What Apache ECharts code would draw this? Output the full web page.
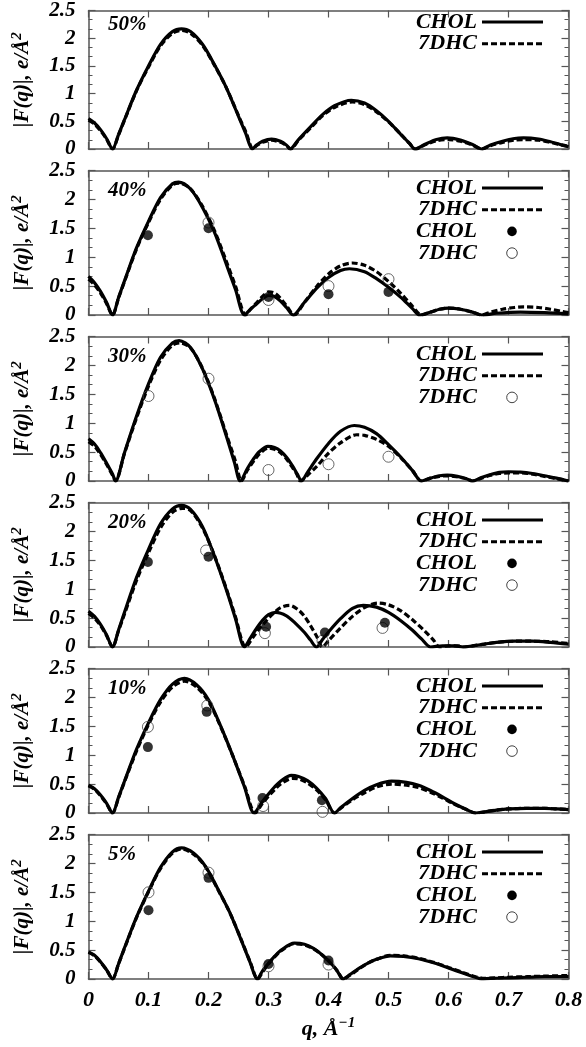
<!DOCTYPE html>
<html><head><meta charset="utf-8">
<script src="https://cdn.jsdelivr.net/npm/echarts@6.0.0/dist/echarts.min.js"></script>
<style>html,body{margin:0;padding:0;background:#fff}#c{width:586px;height:1047px}</style>
</head><body><div id="c"></div>
<script>
// ---------- DATA ----------
const panelLabels = ['50%', '40%', '30%', '20%', '10%', '5%'];
const xTicks = [0, 0.1, 0.2, 0.3, 0.4, 0.5, 0.6, 0.7, 0.8];
const yTicks = [0, 0.5, 1, 1.5, 2, 2.5];

const chol50 = [[0,0.55],[0.01,0.47],[0.02,0.35],[0.03,0.19],[0.04,0],[0.05,0.26],[0.06,0.53],[0.08,1.06],[0.1,1.5],[0.12,1.89],[0.14,2.12],[0.155,2.17],[0.17,2.12],[0.19,1.89],[0.21,1.52],[0.23,1.1],[0.25,0.59],[0.262,0.28],[0.273,0],[0.28,0.07],[0.29,0.14],[0.305,0.18],[0.32,0.14],[0.33,0.07],[0.336,0],[0.35,0.17],[0.37,0.4],[0.39,0.62],[0.41,0.78],[0.438,0.88],[0.46,0.83],[0.48,0.69],[0.5,0.5],[0.52,0.27],[0.535,0.1],[0.544,0],[0.56,0.08],[0.58,0.17],[0.598,0.2],[0.62,0.16],[0.64,0.08],[0.655,0],[0.67,0.07],[0.69,0.14],[0.71,0.19],[0.725,0.2],[0.75,0.18],[0.77,0.13],[0.79,0.07],[0.8,0.04]];
const dhc50 = [[0,0.52],[0.01,0.45],[0.02,0.33],[0.03,0.18],[0.04,0],[0.05,0.25],[0.06,0.52],[0.08,1.05],[0.1,1.48],[0.12,1.86],[0.14,2.09],[0.155,2.14],[0.17,2.09],[0.19,1.87],[0.21,1.51],[0.23,1.1],[0.25,0.6],[0.263,0.29],[0.274,0],[0.28,0.06],[0.29,0.12],[0.305,0.16],[0.32,0.12],[0.33,0.06],[0.337,0],[0.35,0.16],[0.37,0.38],[0.39,0.6],[0.41,0.75],[0.44,0.85],[0.46,0.8],[0.48,0.67],[0.5,0.49],[0.52,0.27],[0.535,0.1],[0.545,0],[0.56,0.07],[0.58,0.15],[0.6,0.17],[0.62,0.14],[0.64,0.07],[0.656,0],[0.67,0.06],[0.69,0.12],[0.71,0.16],[0.725,0.17],[0.75,0.16],[0.77,0.12],[0.79,0.07],[0.8,0.05]];

const chol40 = [[0,0.67],[0.01,0.56],[0.02,0.41],[0.03,0.22],[0.04,0],[0.05,0.3],[0.06,0.59],[0.08,1.16],[0.1,1.62],[0.12,2.03],[0.14,2.27],[0.15,2.3],[0.17,2.18],[0.19,1.86],[0.21,1.43],[0.23,0.87],[0.245,0.44],[0.26,0],[0.27,0.1],[0.28,0.19],[0.29,0.28],[0.3,0.34],[0.31,0.32],[0.32,0.24],[0.33,0.13],[0.341,0],[0.36,0.22],[0.38,0.46],[0.4,0.65],[0.42,0.77],[0.435,0.8],[0.46,0.75],[0.48,0.63],[0.5,0.48],[0.52,0.31],[0.54,0.11],[0.552,0],[0.57,0.05],[0.585,0.1],[0.6,0.12],[0.62,0.1],[0.64,0.05],[0.655,0],[0.68,0.03],[0.72,0.05],[0.76,0.04],[0.8,0.02]];
const dhc40 = [[0,0.62],[0.01,0.52],[0.02,0.38],[0.03,0.2],[0.04,0],[0.05,0.29],[0.06,0.58],[0.08,1.14],[0.1,1.6],[0.12,2.0],[0.14,2.25],[0.152,2.28],[0.17,2.18],[0.19,1.88],[0.21,1.46],[0.23,0.92],[0.245,0.5],[0.262,0],[0.27,0.1],[0.28,0.21],[0.29,0.32],[0.3,0.4],[0.31,0.38],[0.32,0.29],[0.33,0.16],[0.343,0],[0.36,0.22],[0.38,0.49],[0.4,0.71],[0.42,0.85],[0.44,0.9],[0.46,0.86],[0.48,0.75],[0.5,0.58],[0.52,0.38],[0.54,0.15],[0.555,0],[0.57,0.05],[0.585,0.1],[0.6,0.12],[0.62,0.1],[0.64,0.05],[0.655,0],[0.67,0.05],[0.69,0.1],[0.71,0.13],[0.725,0.14],[0.75,0.13],[0.77,0.1],[0.79,0.06],[0.8,0.04]];
const cholPts40 = [[0.099,1.38],[0.2,1.5],[0.3,0.31],[0.4,0.36],[0.5,0.4]];
const dhcPts40 = [[0.2,1.6],[0.3,0.26],[0.4,0.5],[0.5,0.62]];

const chol30 = [[0,0.73],[0.01,0.64],[0.02,0.49],[0.03,0.31],[0.04,0.12],[0.045,0],[0.06,0.49],[0.08,1.12],[0.1,1.68],[0.12,2.14],[0.14,2.39],[0.151,2.43],[0.17,2.31],[0.19,1.94],[0.21,1.41],[0.23,0.77],[0.243,0.33],[0.253,0],[0.265,0.22],[0.275,0.38],[0.285,0.51],[0.299,0.6],[0.31,0.58],[0.32,0.52],[0.33,0.41],[0.34,0.26],[0.348,0.12],[0.355,0],[0.365,0.15],[0.38,0.38],[0.4,0.65],[0.42,0.86],[0.443,0.96],[0.46,0.93],[0.48,0.82],[0.5,0.63],[0.52,0.42],[0.54,0.18],[0.555,0],[0.57,0.05],[0.585,0.09],[0.598,0.1],[0.615,0.08],[0.63,0.04],[0.64,0],[0.655,0.06],[0.67,0.11],[0.685,0.15],[0.7,0.16],[0.72,0.155],[0.74,0.13],[0.76,0.09],[0.78,0.05],[0.8,0]];
const dhc30 = [[0,0.68],[0.01,0.6],[0.02,0.46],[0.03,0.29],[0.04,0.1],[0.045,0],[0.06,0.48],[0.08,1.09],[0.1,1.64],[0.12,2.09],[0.14,2.35],[0.153,2.39],[0.17,2.3],[0.19,1.95],[0.21,1.43],[0.23,0.8],[0.245,0.34],[0.255,0],[0.265,0.19],[0.275,0.34],[0.285,0.47],[0.3,0.57],[0.31,0.55],[0.32,0.49],[0.33,0.38],[0.34,0.23],[0.347,0.12],[0.353,0],[0.365,0.1],[0.38,0.25],[0.4,0.48],[0.42,0.66],[0.447,0.8],[0.46,0.79],[0.48,0.72],[0.5,0.6],[0.52,0.41],[0.54,0.18],[0.555,0],[0.57,0.05],[0.585,0.08],[0.598,0.09],[0.615,0.07],[0.63,0.04],[0.64,0],[0.655,0.05],[0.67,0.1],[0.685,0.13],[0.7,0.14],[0.72,0.14],[0.74,0.12],[0.76,0.08],[0.78,0.04],[0.8,0]];
const cholPts30 = [];
const dhcPts30 = [[0.1,1.47],[0.2,1.77],[0.3,0.19],[0.4,0.29],[0.5,0.42]];

const chol20 = [[0,0.62],[0.01,0.53],[0.02,0.39],[0.03,0.21],[0.04,0],[0.05,0.29],[0.06,0.6],[0.08,1.2],[0.1,1.69],[0.12,2.13],[0.14,2.39],[0.155,2.45],[0.17,2.38],[0.19,2.08],[0.21,1.57],[0.23,0.98],[0.245,0.49],[0.26,0],[0.27,0.16],[0.28,0.32],[0.29,0.46],[0.3,0.56],[0.312,0.6],[0.33,0.54],[0.345,0.41],[0.36,0.25],[0.37,0.12],[0.38,0],[0.39,0.13],[0.4,0.26],[0.42,0.49],[0.44,0.67],[0.458,0.72],[0.48,0.69],[0.5,0.6],[0.52,0.46],[0.54,0.29],[0.555,0.14],[0.57,0],[0.59,0.02],[0.61,0.02],[0.625,0],[0.64,0.02],[0.66,0.05],[0.68,0.08],[0.71,0.1],[0.74,0.1],[0.77,0.08],[0.8,0.05]];
const dhc20 = [[0,0.58],[0.01,0.5],[0.02,0.37],[0.03,0.2],[0.04,0],[0.05,0.28],[0.06,0.57],[0.08,1.15],[0.1,1.63],[0.12,2.06],[0.14,2.33],[0.157,2.4],[0.17,2.36],[0.19,2.06],[0.21,1.58],[0.23,1.0],[0.245,0.52],[0.262,0],[0.275,0.18],[0.29,0.38],[0.305,0.55],[0.32,0.68],[0.335,0.72],[0.35,0.64],[0.36,0.53],[0.37,0.37],[0.38,0.19],[0.39,0],[0.4,0.11],[0.42,0.33],[0.44,0.53],[0.46,0.68],[0.482,0.76],[0.5,0.73],[0.52,0.63],[0.54,0.47],[0.56,0.28],[0.575,0.12],[0.585,0],[0.6,0.02],[0.615,0.02],[0.625,0],[0.64,0.02],[0.66,0.05],[0.68,0.08],[0.71,0.1],[0.74,0.1],[0.77,0.09],[0.8,0.06]];
const cholPts20 = [[0.099,1.47],[0.2,1.56],[0.296,0.35],[0.394,0.25],[0.494,0.42]];
const dhcPts20 = [[0.196,1.67],[0.294,0.24],[0.39,0.11],[0.49,0.33]];

const chol10 = [[0,0.48],[0.01,0.42],[0.02,0.31],[0.03,0.17],[0.04,0],[0.05,0.27],[0.06,0.55],[0.08,1.1],[0.1,1.56],[0.12,1.96],[0.14,2.23],[0.16,2.33],[0.18,2.22],[0.2,1.96],[0.22,1.51],[0.24,1.0],[0.26,0.45],[0.276,0],[0.29,0.2],[0.3,0.33],[0.31,0.45],[0.32,0.55],[0.338,0.65],[0.35,0.63],[0.365,0.56],[0.38,0.43],[0.395,0.25],[0.41,0],[0.42,0.09],[0.44,0.25],[0.46,0.39],[0.48,0.49],[0.505,0.55],[0.53,0.53],[0.55,0.48],[0.57,0.39],[0.59,0.28],[0.61,0.16],[0.63,0.06],[0.645,0],[0.66,0.02],[0.68,0.05],[0.7,0.07],[0.73,0.08],[0.76,0.08],[0.78,0.07],[0.8,0.06]];
const dhc10 = [[0,0.47],[0.01,0.41],[0.02,0.3],[0.03,0.16],[0.04,0],[0.05,0.26],[0.06,0.54],[0.08,1.07],[0.1,1.53],[0.12,1.92],[0.14,2.18],[0.16,2.28],[0.18,2.18],[0.2,1.93],[0.22,1.5],[0.24,1.0],[0.26,0.47],[0.278,0],[0.29,0.17],[0.3,0.29],[0.31,0.4],[0.32,0.5],[0.34,0.6],[0.35,0.59],[0.365,0.52],[0.38,0.4],[0.395,0.23],[0.41,0],[0.42,0.08],[0.44,0.23],[0.46,0.35],[0.48,0.45],[0.505,0.5],[0.53,0.48],[0.55,0.44],[0.57,0.36],[0.59,0.26],[0.61,0.15],[0.63,0.06],[0.645,0],[0.66,0.02],[0.68,0.05],[0.7,0.07],[0.73,0.08],[0.76,0.08],[0.78,0.07],[0.8,0.06]];
const cholPts10 = [[0.099,1.14],[0.197,1.75],[0.29,0.26],[0.389,0.22]];
const dhcPts10 = [[0.099,1.49],[0.198,1.86],[0.291,0.12],[0.39,0.02]];

const chol5 = [[0,0.47],[0.01,0.41],[0.02,0.3],[0.03,0.16],[0.04,0],[0.05,0.26],[0.06,0.54],[0.08,1.07],[0.1,1.52],[0.12,1.93],[0.14,2.2],[0.155,2.27],[0.175,2.18],[0.195,1.95],[0.215,1.57],[0.235,1.16],[0.255,0.66],[0.27,0.27],[0.281,0],[0.29,0.14],[0.3,0.27],[0.31,0.39],[0.32,0.49],[0.343,0.62],[0.36,0.6],[0.375,0.53],[0.39,0.41],[0.405,0.26],[0.415,0.13],[0.424,0],[0.435,0.07],[0.45,0.18],[0.465,0.27],[0.48,0.34],[0.503,0.4],[0.525,0.39],[0.55,0.35],[0.575,0.28],[0.6,0.19],[0.625,0.1],[0.645,0.03],[0.655,0],[0.67,0.01],[0.7,0.02],[0.73,0.03],[0.76,0.04],[0.8,0.04]];
const dhc5 = [[0,0.46],[0.01,0.4],[0.02,0.29],[0.03,0.16],[0.04,0],[0.05,0.26],[0.06,0.53],[0.08,1.06],[0.1,1.51],[0.12,1.91],[0.14,2.18],[0.155,2.25],[0.175,2.16],[0.195,1.94],[0.215,1.56],[0.235,1.16],[0.255,0.67],[0.27,0.28],[0.282,0],[0.29,0.12],[0.3,0.26],[0.31,0.38],[0.32,0.48],[0.343,0.61],[0.36,0.59],[0.375,0.52],[0.39,0.41],[0.405,0.26],[0.415,0.14],[0.425,0],[0.435,0.06],[0.45,0.17],[0.465,0.27],[0.48,0.34],[0.503,0.41],[0.525,0.4],[0.55,0.36],[0.575,0.29],[0.6,0.2],[0.625,0.11],[0.645,0.04],[0.66,0.01],[0.68,0.02],[0.7,0.03],[0.73,0.04],[0.76,0.05],[0.8,0.06]];
const cholPts5 = [[0.1,1.19],[0.2,1.75],[0.3,0.26],[0.4,0.32]];
const dhcPts5 = [[0.1,1.5],[0.2,1.84],[0.3,0.22],[0.4,0.25]];

// legend entries per panel: L = CHOL line, D = 7DHC dashed, P = CHOL filled, O = 7DHC open
const legendSets = [['L','D'], ['L','D','P','O'], ['L','D','O'], ['L','D','P','O'], ['L','D','P','O'], ['L','D','P','O']];
const legendNames = {L:'CHOL', D:'7DHC', P:'CHOL', O:'7DHC'};

// ---------- LAYOUT / STYLE ----------
const FONT = '"Liberation Serif", "Times New Roman", serif';
const TOP0 = 4.5, PITCH = 166, PH = 144.5, LEFT = 88.5, RIGHT = 17.5;
const AXC = '#555';
const panels = [
  {chol: chol50, dhc: dhc50, cp: [], dp: []},
  {chol: chol40, dhc: dhc40, cp: cholPts40, dp: dhcPts40},
  {chol: chol30, dhc: dhc30, cp: cholPts30, dp: dhcPts30},
  {chol: chol20, dhc: dhc20, cp: cholPts20, dp: dhcPts20},
  {chol: chol10, dhc: dhc10, cp: cholPts10, dp: dhcPts10},
  {chol: chol5,  dhc: dhc5,  cp: cholPts5,  dp: dhcPts5}
];

const grid = [], xAxis = [], yAxis = [], series = [], graphic = [];
const axLine = {show: true, onZero: false, lineStyle: {color: AXC, width: 1.5}};
const axTick = {show: true, inside: true, length: 7, lineStyle: {color: AXC, width: 1.2}};
const bi = {fontFamily: FONT, fontStyle: 'italic', fontWeight: 'bold', color: '#000'};

panels.forEach((p, i) => {
  const top = TOP0 + PITCH * i;
  const last = i === panels.length - 1;
  grid.push({left: LEFT, right: RIGHT, top: top, height: PH});
  xAxis.push({
    gridIndex: i, type: 'value', min: 0, max: 0.8, interval: 0.1, position: 'bottom',
    axisLine: axLine, axisTick: axTick, splitLine: {show: false},
    axisLabel: Object.assign({show: last, margin: 10, fontSize: 22}, bi),
    name: last ? '{t|q, Å}{s|−1}' : '', nameLocation: 'middle', nameGap: 37,
    nameTextStyle: {rich: {
      t: Object.assign({fontSize: 22}, bi),
      s: Object.assign({fontSize: 15, padding: [0, 0, 12, 0]}, bi)
    }}
  });
  xAxis.push({
    gridIndex: i, type: 'value', min: 0, max: 0.8, interval: 0.1, position: 'top',
    axisLine: axLine, axisTick: axTick, splitLine: {show: false}, axisLabel: {show: false}
  });
  yAxis.push({
    gridIndex: i, type: 'value', min: 0, max: 2.5, interval: 0.5, position: 'left',
    axisLine: axLine, axisTick: axTick, splitLine: {show: false},
    minorTick: {show: true, splitNumber: 3, length: 4, lineStyle: {color: AXC, width: 1}},
    axisLabel: Object.assign({margin: 13, fontSize: 21}, bi),
    name: '{t||F(q)|, e/Å}{s|2}', nameLocation: 'middle', nameGap: 52,
    nameTextStyle: {rich: {
      t: Object.assign({fontSize: 21}, bi),
      s: Object.assign({fontSize: 15, padding: [0, 0, 12, 0]}, bi)
    }}
  });
  yAxis.push({
    gridIndex: i, type: 'value', min: 0, max: 2.5, interval: 0.5, position: 'right',
    axisLine: axLine, axisTick: axTick, splitLine: {show: false},
    minorTick: {show: true, splitNumber: 3, length: 4, lineStyle: {color: AXC, width: 1}},
    axisLabel: {show: false}
  });
  const xi = 2 * i, yi = 2 * i;
  series.push({type: 'line', xAxisIndex: xi, yAxisIndex: yi, data: p.chol, symbol: 'none', z: 3, smooth: 0.3,
    lineStyle: {color: '#000', width: 3.2, type: 'solid'}});
  series.push({type: 'line', xAxisIndex: xi, yAxisIndex: yi, data: p.dhc, symbol: 'none', z: 2, smooth: 0.3,
    lineStyle: {color: '#000', width: 3.2, type: [6, 3]}});
  if (p.cp.length) series.push({type: 'scatter', xAxisIndex: xi, yAxisIndex: yi, data: p.cp, z: 5,
    symbol: 'circle', symbolSize: 10, itemStyle: {color: '#000'}});
  if (p.dp.length) series.push({type: 'scatter', xAxisIndex: xi, yAxisIndex: yi, data: p.dp, z: 4,
    symbol: 'circle', symbolSize: 11, itemStyle: {color: 'rgba(255,255,255,0)', borderColor: '#444', borderWidth: 1}});

  // panel label
  graphic.push({type: 'text', x: 108, y: top + 20.5, z: 10,
    style: {text: panelLabels[i], font: 'italic bold 21px ' + FONT, fill: '#000', textAlign: 'left', textVerticalAlign: 'middle'}});
  // legend
  legendSets[i].forEach((k, r) => {
    const y = top + 17.5 + r * 21.7;
    graphic.push({type: 'text', x: 477, y: y, z: 10,
      style: {text: legendNames[k], font: 'italic bold 22px ' + FONT, fill: '#000', textAlign: 'right', textVerticalAlign: 'middle'}});
    if (k === 'L' || k === 'D') {
      graphic.push({type: 'line', z: 10, shape: {x1: 482, y1: y, x2: 543, y2: y},
        style: {stroke: '#000', lineWidth: 3, lineDash: k === 'D' ? [6, 3] : null}});
    } else if (k === 'P') {
      graphic.push({type: 'circle', z: 10, shape: {cx: 512, cy: y, r: 4.8}, style: {fill: '#000'}});
    } else {
      graphic.push({type: 'circle', z: 10, shape: {cx: 512, cy: y, r: 5.3}, style: {fill: 'none', stroke: '#444', lineWidth: 1}});
    }
  });
});

const chart = echarts.init(document.getElementById('c'), null, {renderer: 'canvas'});
chart.setOption({animation: false, backgroundColor: '#fff', grid, xAxis, yAxis, series, graphic});
</script>
</body></html>
